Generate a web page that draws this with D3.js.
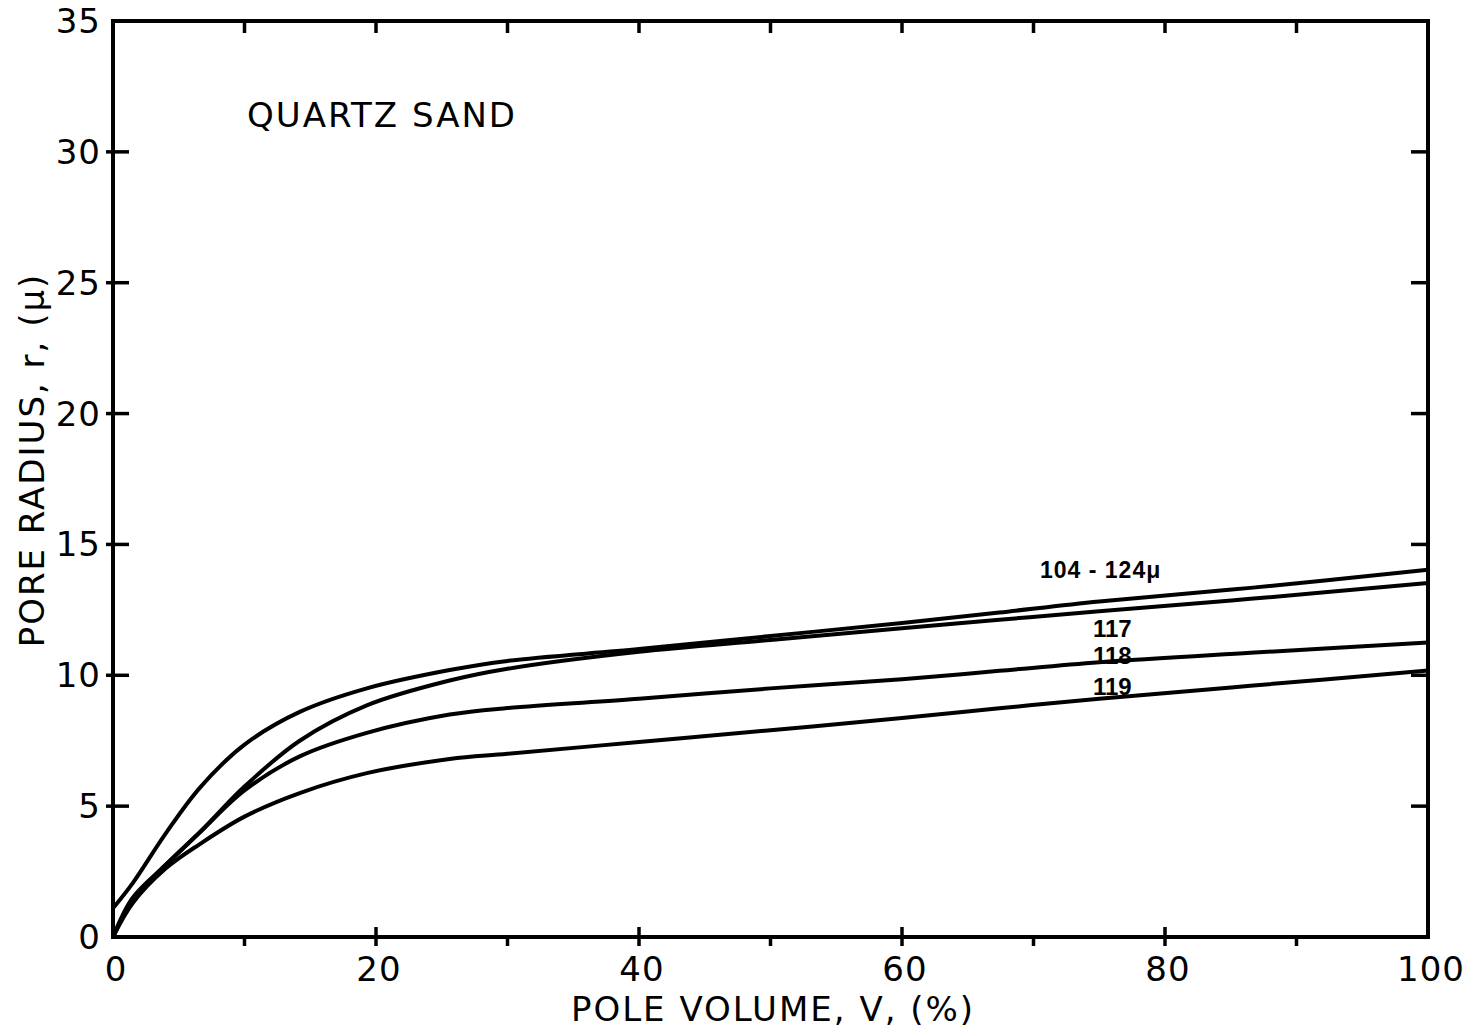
<!DOCTYPE html>
<html>
<head>
<meta charset="utf-8">
<script src="https://cdn.jsdelivr.net/npm/d3@7"></script>
<style>
  html, body { margin: 0; padding: 0; background: #fff; }
  svg { display: block; }
  text { font-family: "DejaVu Sans", "Noto Sans", sans-serif; fill: #000; }
  text.curve-label { font-family: "Liberation Sans", "Noto Sans", sans-serif; font-weight: bold; }
</style>
</head>
<body>
<svg id="chart" width="1470" height="1030"></svg>
<script>
// Pore volume (%) sampled along each curve
const poreVolume = [0, 1.5, 4, 6.6, 10, 14.2, 19.3, 25.6, 30, 40, 50, 60, 67.4, 75, 86.5, 100];

// Pore radius (µ) for each sample
const radius104_124 = [1.1, 2.06, 3.95, 5.7, 7.35, 8.6, 9.5, 10.2, 10.55, 11.0, 11.5, 12.0, 12.4, 12.82, 13.34, 14.03];
const radius117     = [0, 1.5, 2.75, 4.0, 5.75, 7.5, 8.85, 9.8, 10.25, 10.9, 11.35, 11.8, 12.12, 12.45, 12.92, 13.53];
const radius118     = [0, 1.4, 2.75, 4.0, 5.6, 6.9, 7.8, 8.5, 8.75, 9.1, 9.5, 9.85, 10.17, 10.5, 10.86, 11.25];
const radius119     = [0, 1.3, 2.62, 3.55, 4.6, 5.5, 6.26, 6.8, 7.0, 7.45, 7.9, 8.37, 8.74, 9.1, 9.6, 10.18];

const seriesNames = ["104 - 124\u03bc", "117", "118", "119"];
const seriesValues = [radius104_124, radius117, radius118, radius119];

const xTickLabels = [0, 20, 40, 60, 80, 100];
const xMinorTicks = [10, 30, 50, 70, 90];
const yTickLabels = [0, 5, 10, 15, 20, 25, 30, 35];

const svg = d3.select("#chart");
const plotLeft = 113, plotRight = 1428, plotTop = 21, plotBottom = 937;

const x = d3.scaleLinear().domain([0, 100]).range([plotLeft, plotRight]);
const y = d3.scaleLinear().domain([0, 35]).range([plotBottom, plotTop]);

const ink = "#000";

// Curves
const line = d3.line()
  .x((d, i) => x(poreVolume[i]))
  .y(d => y(d))
  .curve(d3.curveCatmullRom.alpha(0.5));

svg.append("g").selectAll("path")
  .data(seriesValues)
  .join("path")
  .attr("d", d => line(d))
  .attr("fill", "none")
  .attr("stroke", ink)
  .attr("stroke-width", 4)
  .attr("stroke-linecap", "round");

// Frame
svg.append("rect")
  .attr("x", plotLeft).attr("y", plotTop)
  .attr("width", plotRight - plotLeft).attr("height", plotBottom - plotTop)
  .attr("fill", "none").attr("stroke", ink).attr("stroke-width", 4);

const ticks = svg.append("g").attr("stroke", ink).attr("stroke-width", 3.5);

// Bottom axis: crossing major ticks, outward minor ticks
ticks.selectAll(".xmaj").data(xTickLabels.filter(v => v > 0 && v < 100)).join("line")
  .attr("class", "xmaj")
  .attr("x1", d => x(d)).attr("x2", d => x(d))
  .attr("y1", plotBottom - 10).attr("y2", plotBottom + 9);
ticks.selectAll(".xmin").data(xMinorTicks).join("line")
  .attr("class", "xmin")
  .attr("x1", d => x(d)).attr("x2", d => x(d))
  .attr("y1", plotBottom).attr("y2", plotBottom + 9);

// Top axis: inward ticks every 10
ticks.selectAll(".xtop").data(d3.range(10, 100, 10)).join("line")
  .attr("class", "xtop")
  .attr("x1", d => x(d)).attr("x2", d => x(d))
  .attr("y1", plotTop).attr("y2", plotTop + 12);

// Left axis: crossing ticks
ticks.selectAll(".yl").data(yTickLabels.filter(v => v > 0 && v < 35)).join("line")
  .attr("class", "yl")
  .attr("x1", plotLeft - 7).attr("x2", plotLeft + 16)
  .attr("y1", d => y(d)).attr("y2", d => y(d));

// Right axis: inward ticks
ticks.selectAll(".yr").data(yTickLabels.filter(v => v > 0 && v < 35)).join("line")
  .attr("class", "yr")
  .attr("x1", plotRight - 17).attr("x2", plotRight)
  .attr("y1", d => y(d)).attr("y2", d => y(d));

// Tick labels
svg.append("g").selectAll("text").data(xTickLabels).join("text")
  .attr("x", d => x(d) + 3)
  .attr("y", 981)
  .attr("text-anchor", "middle")
  .attr("font-size", 34)
  .attr("letter-spacing", 1)
  .text(d => d);

svg.append("g").selectAll("text").data(yTickLabels).join("text")
  .attr("x", 101)
  .attr("y", d => y(d) + 12)
  .attr("text-anchor", "end")
  .attr("font-size", 34)
  .attr("letter-spacing", 1)
  .text(d => d);

// Axis titles
svg.append("text")
  .attr("x", 773).attr("y", 1021)
  .attr("text-anchor", "middle")
  .attr("font-size", 34)
  .attr("letter-spacing", 2)
  .text("POLE VOLUME, V, (%)");

svg.append("text")
  .attr("transform", "translate(44,460) rotate(-90)")
  .attr("text-anchor", "middle")
  .attr("font-size", 34)
  .attr("letter-spacing", 2)
  .text("PORE RADIUS, r, (\u03bc)");

// Panel title
svg.append("text")
  .attr("x", 247).attr("y", 127)
  .attr("font-size", 34)
  .attr("letter-spacing", 2)
  .text("QUARTZ SAND");

// Curve labels
const labelPos = [
  { x: 1040, y: 578, size: 23, spacing: 1 },
  { x: 1093, y: 637, size: 24, spacing: 0 },
  { x: 1093, y: 664, size: 24, spacing: 0 },
  { x: 1093, y: 695, size: 24, spacing: 0 }
];
svg.append("g").selectAll("text").data(seriesNames).join("text")
  .attr("class", "curve-label")
  .attr("x", (d, i) => labelPos[i].x)
  .attr("y", (d, i) => labelPos[i].y)
  .attr("font-size", (d, i) => labelPos[i].size)
  .attr("letter-spacing", (d, i) => labelPos[i].spacing)
  .text(d => d);
</script>
</body>
</html>
